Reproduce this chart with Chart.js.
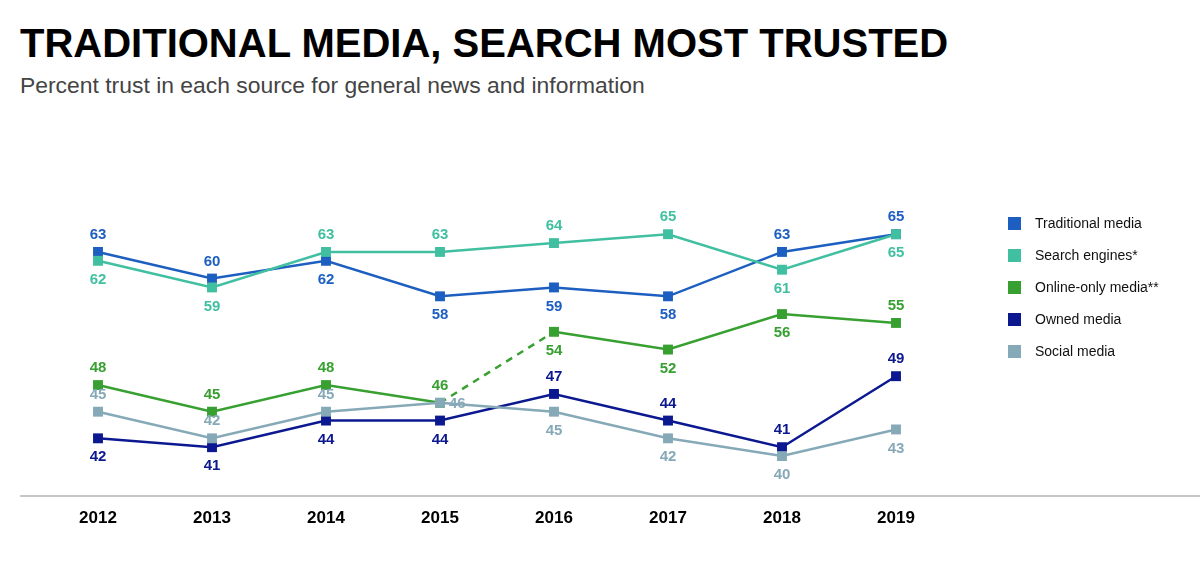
<!DOCTYPE html>
<html>
<head>
<meta charset="utf-8">
<script src="https://cdn.jsdelivr.net/npm/chart.js@4/dist/chart.umd.min.js"></script>
<style>
    html, body { margin: 0; padding: 0; background: #fff; }
    #wrap { position: relative; width: 1200px; height: 562px; overflow: hidden; }
    #title {
        position: absolute; left: 20px; top: 21px; line-height: 1;
        font: bold 40px "Liberation Sans", Arial, sans-serif;
        color: #000; white-space: nowrap;
    }
    #subtitle {
        position: absolute; left: 20px; top: 72px; line-height: 1;
        font: 22.9px "Liberation Sans", Arial, sans-serif;
        color: #444; white-space: nowrap;
    }
    canvas { position: absolute; left: 0; top: 0; }
</style>
</head>
<body>
<div id="wrap">
    <div id="title">TRADITIONAL MEDIA, SEARCH MOST TRUSTED</div>
    <div id="subtitle">Percent trust in each source for general news and information</div>
    <canvas id="chart" width="1200" height="562"></canvas>
</div>
<script>
const years = ["2012", "2013", "2014", "2015", "2016", "2017", "2018", "2019"];

const traditionalMedia = [63, 60, 62, 58, 59, 58, 63, 65];
const searchEngines = [62, 59, 63, 63, 64, 65, 61, 65];
const onlineOnlyMedia = [48, 45, 48, 46, 54, 52, 56, 55];
const ownedMedia = [42, 41, 44, 44, 47, 44, 41, 49];
const socialMedia = [45, 42, 45, 46, 45, 42, 40, 43];

// where each value label sits: a = above, b = below, r = right
const traditionalLabels = ["a", "a", "b", "b", "b", "b", "a", "a"];
const searchLabels = ["b", "b", "a", "a", "a", "a", "b", "b"];
const onlineLabels = ["a", "a", "a", "a", "b", "b", "b", "a"];
const ownedLabels = ["b", "b", "b", "b", "a", "a", "a", "a"];
const socialLabels = ["a", "a", "a", "r", "b", "b", "b", "b"];

const FONT = '"Liberation Sans", Arial, sans-serif';

function makeSet(label, data, color, places) {
    return {
        label: label,
        data: data,
        places: places,
        borderColor: color,
        backgroundColor: color,
        borderWidth: 2.5,
        pointStyle: 'rect',
        pointRadius: 7,
        pointHoverRadius: 7,
        pointBorderWidth: 0,
        tension: 0,
        fill: false
    };
}

var online = makeSet("Online-only media**", onlineOnlyMedia, "#37a030", onlineLabels);
// 2015 -> 2016 is dashed
online.segment = {
    borderDash: ctx => ctx.p0DataIndex === 3 ? [7, 6] : undefined
};

const datasets = [
    makeSet("Social media", socialMedia, "#86a9b8", socialLabels),
    makeSet("Owned media", ownedMedia, "#0c1890", ownedLabels),
    online,
    makeSet("Search engines*", searchEngines, "#41bfa1", searchLabels),
    makeSet("Traditional media", traditionalMedia, "#1d5fc0", traditionalLabels)
];

// value labels next to each point
const valueLabels = {
    id: 'valueLabels',
    afterDatasetsDraw(chart) {
        const ctx = chart.ctx;
        ctx.save();
        ctx.font = 'bold 15px ' + FONT;
        ctx.textBaseline = 'middle';
        chart.data.datasets.forEach((ds, i) => {
            const meta = chart.getDatasetMeta(i);
            meta.data.forEach((pt, j) => {
                const p = ds.places[j];
                ctx.fillStyle = ds.borderColor;
                if (p === 'r') {
                    ctx.textAlign = 'left';
                    ctx.fillText(ds.data[j], pt.x + 9, pt.y + 1);
                } else {
                    ctx.textAlign = 'center';
                    ctx.fillText(ds.data[j], pt.x, p === 'a' ? pt.y - 17 : pt.y + 19);
                }
            });
        });
        ctx.restore();
    }
};

// baseline across the whole page + legend on the right
const decor = {
    id: 'decor',
    afterDraw(chart) {
        const ctx = chart.ctx;
        const y = chart.chartArea.bottom;
        ctx.save();
        ctx.strokeStyle = '#b5b5b5';
        ctx.lineWidth = 1.5;
        ctx.beginPath();
        ctx.moveTo(20, y);
        ctx.lineTo(1200, y);
        ctx.stroke();

        ctx.font = '14px ' + FONT;
        ctx.textAlign = 'left';
        ctx.textBaseline = 'middle';
        var order = chart.data.datasets.slice().reverse();
        order.forEach((ds, k) => {
            var cy = 224 + k * 32;
            ctx.fillStyle = ds.borderColor;
            ctx.fillRect(1008, cy - 7, 13, 13);
            ctx.fillStyle = '#111';
            ctx.fillText(ds.label, 1035, cy);
        });
        ctx.restore();
    }
};

new Chart(document.getElementById("chart"), {
    type: 'line',
    data: {
        labels: years,
        datasets: datasets
    },
    options: {
        responsive: false,
        animation: false,
        events: [],
        layout: {
            padding: { left: 41, right: 247, top: 0, bottom: 0 }
        },
        plugins: {
            legend: { display: false },
            tooltip: { enabled: false },
            title: { display: false }
        },
        scales: {
            x: {
                offset: true,
                grid: { display: false },
                border: { display: false },
                ticks: {
                    color: '#000',
                    padding: 4,
                    font: { family: FONT, size: 17, weight: 'bold' }
                },
                afterFit: scale => { scale.height = 66; }
            },
            y: {
                display: false,
                min: 35.5,
                max: 90.6,
                afterFit: scale => { scale.width = 0; }
            }
        }
    },
    plugins: [valueLabels, decor]
});
</script>
</body>
</html>
